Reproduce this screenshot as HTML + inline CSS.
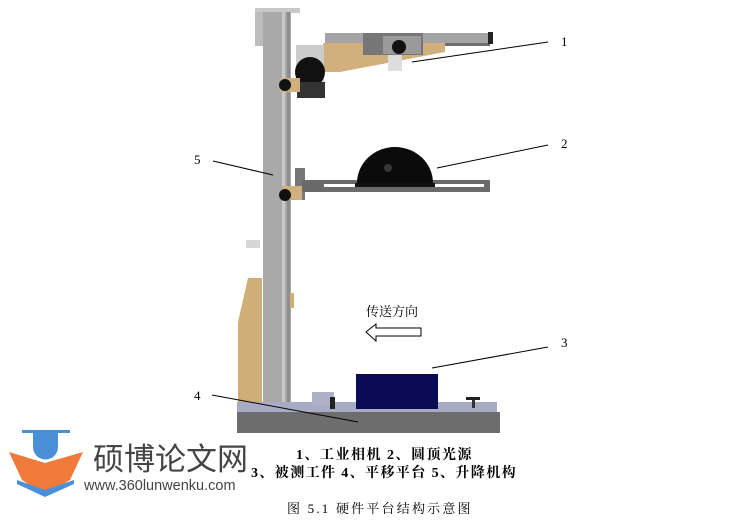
<!DOCTYPE html>
<html><head><meta charset="utf-8"><style>
body{margin:0;background:#fff}
svg{display:block}
.s{font-family:"Liberation Serif","Noto Serif CJK SC",serif}
.b{font-family:"Liberation Serif","Noto Serif CJK SC",serif;font-weight:bold}
</style></head><body>
<svg width="745" height="520" viewBox="0 0 745 520" xmlns="http://www.w3.org/2000/svg">
<rect x="255" y="8" width="45" height="5" fill="#c8c8c8"/>
<rect x="255" y="12" width="10" height="34" fill="#bdbdbd"/>
<rect x="263" y="12" width="28" height="390" fill="#a9a9a9"/>
<rect x="282" y="12" width="3" height="390" fill="#c9c9c9"/>
<rect x="287" y="12" width="3" height="390" fill="#8d8d8d"/>
<rect x="246" y="240" width="14" height="8" fill="#d6d6d6"/>
<rect x="325" y="33" width="167" height="10" fill="#a4a4a4"/>
<rect x="325" y="43" width="165" height="3" fill="#6e6e6e"/>
<rect x="488" y="32" width="5" height="12" fill="#222"/>
<polygon points="323,43 445,43 445,52 340,72 323,72" fill="#d2b07e"/>
<rect x="363" y="33" width="60" height="22" fill="#777"/>
<rect x="383" y="36" width="38" height="18" fill="#9a9a9a"/>
<circle cx="399" cy="47" r="7" fill="#111"/>
<rect x="388" y="55" width="14" height="16" fill="#ddd"/>
<rect x="296" y="45" width="28" height="40" fill="#ccc"/>
<circle cx="310" cy="72" r="15" fill="#111"/>
<rect x="297" y="82" width="28" height="16" fill="#333"/>
<rect x="280" y="78" width="20" height="14" fill="#d2b07e"/>
<circle cx="285" cy="85" r="6" fill="#111"/>
<rect x="295" y="168" width="10" height="32" fill="#777"/>
<rect x="302" y="180" width="188" height="12" fill="#6a6a6a"/>
<rect x="324" y="184" width="160" height="3" fill="#fff"/>
<rect x="355" y="183" width="80" height="4" fill="#111"/>
<path d="M357 183 A38 36 0 0 1 433 183 Z" fill="#0b0b0b"/>
<circle cx="388" cy="168" r="4" fill="#555" opacity=".6"/>
<rect x="282" y="186" width="20" height="14" fill="#d2b07e"/>
<circle cx="285" cy="195" r="6" fill="#111"/>
<polygon points="248,278 262,278 262,402 238,402 238,322" fill="#cfae78"/>
<rect x="290" y="293" width="4" height="15" fill="#cfae78"/>
<rect x="237" y="402" width="260" height="10" fill="#a7acc4"/>
<rect x="312" y="392" width="22" height="14" fill="#aeb2c6"/>
<rect x="330" y="397" width="5" height="12" fill="#222"/>
<rect x="237" y="412" width="263" height="21" fill="#6d6d6d"/>
<rect x="356" y="374" width="82" height="35" fill="#0a0a55"/>
<rect x="466" y="397" width="14" height="3" fill="#222"/>
<rect x="472" y="400" width="3" height="8" fill="#333"/>
<g stroke="#000" stroke-width="1">
<line x1="548" y1="42" x2="412" y2="62"/>
<line x1="548" y1="145" x2="437" y2="168"/>
<line x1="548" y1="347" x2="432" y2="368"/>
<line x1="212" y1="395" x2="358" y2="422"/>
<line x1="213" y1="161" x2="273" y2="175"/>
</g>
<g class="s" font-size="13">
<text x="561" y="46">1</text><text x="561" y="148">2</text><text x="561" y="347">3</text>
<text x="194" y="400">4</text><text x="194" y="164">5</text>
</g>
<text x="366" y="316" class="s" font-size="13">传送方向</text>
<polygon points="366,332 376,324 376,328 421,328 421,336 376,336 376,341" fill="#fff" stroke="#000" stroke-width="1"/>
<text x="296" y="459" class="b" font-size="14" letter-spacing="1.5">1、工业相机 2、圆顶光源</text>
<text x="251" y="477" class="b" font-size="14" letter-spacing="1.4">3、被测工件 4、平移平台 5、升降机构</text>
<text x="287" y="513" class="s" font-size="13" letter-spacing="2.2">图 5.1 硬件平台结构示意图</text>
<rect x="22" y="430" width="48" height="3" fill="#4a90d9"/>
<path d="M33 433 L58 433 L58 447 A12 12 0 0 1 33 447 Z" fill="#4a90d9"/>
<polygon points="9,452 45,463 83,452 70,480 45,495 22,480" fill="#f07a3a"/>
<path d="M17 480 L45 490 L74 480 L74 484 L45 497 L17 484 Z" fill="#4a90d9"/>
<text x="93" y="470" font-family="'Noto Sans CJK SC',sans-serif" font-size="31" fill="#444">硕博论文网</text>
<text x="84" y="490" font-family="'Liberation Sans',sans-serif" font-size="14.5" fill="#444">www.360lunwenku.com</text>
</svg>
</body></html>
